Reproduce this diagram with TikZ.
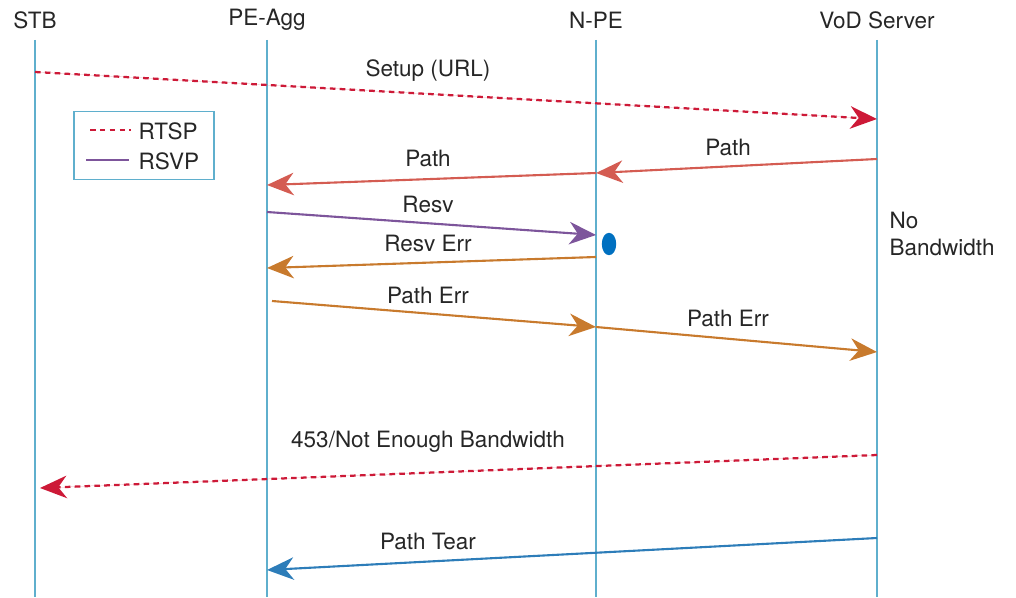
\documentclass[tikz,border=0pt]{standalone}
\usepackage{fontspec}
\setmainfont{TeX Gyre Heros}
\usetikzlibrary{arrows.meta,positioning,calc,shapes.geometric}
\definecolor{lifeblue}{RGB}{95,175,205}
\definecolor{rtspred}{RGB}{205,25,55}
\definecolor{pathred}{RGB}{212,92,82}
\definecolor{resvpurple}{RGB}{125,85,155}
\definecolor{errorange}{RGB}{200,122,45}
\definecolor{tearblue}{RGB}{45,125,185}
\definecolor{npeblue}{RGB}{0,112,192}

\begin{document}
\begin{tikzpicture}[
  x=0.025cm, y=-0.025cm,
  font=\fontsize{16}{19}\selectfont,
  every node/.style={text=black!85},
  tip/.style     = {-{Stealth[length=19pt, width=16pt, inset=6pt]}},
  life/.style    = {draw=lifeblue, line width=0.8pt},
  head/.style    = {inner sep=1pt},
  msg/.style     = {inner sep=1pt},
  rtsp/.style    = {tip, draw=rtspred, fill=rtspred, line width=1.6pt,
                    dash pattern=on 4pt off 3pt},
  rsvppath/.style= {tip, draw=pathred, fill=pathred, line width=1.5pt},
  rsvpresv/.style= {tip, draw=resvpurple, fill=resvpurple, line width=1.5pt},
  rsvperr/.style = {tip, draw=errorange, fill=errorange, line width=1.5pt},
  rsvptear/.style= {tip, draw=tearblue, fill=tearblue, line width=1.5pt},
  legbox/.style  = {draw=lifeblue, line width=0.8pt}
]
\useasboundingbox (0,0) rectangle (1016,597);

% lifelines
\node[head] (stb) at (35,20) {STB};
\node[head] (agg) at (267,20) {PE-Agg};
\node[head] (npe) at (596,20) {N-PE};
\node[head] (vod) at (877,20) {VoD Server};
\draw[life] (35,40) -- (35,597);
\draw[life] (267,40) -- (267,597);
\draw[life] (596,40) -- (596,597);
\draw[life] (877,40) -- (877,597);

% legend
\node[legbox, minimum width=3.5cm, minimum height=1.72cm] (legend) at (144,145.5) {};
\coordinate (rtspA) at (90,130);
\coordinate (rtspB) at (131,130);
\coordinate (rsvpA) at (86,160);
\coordinate (rsvpB) at (129,160);
\draw[draw=rtspred, line width=1.6pt, dash pattern=on 4pt off 3pt] (rtspA) -- (rtspB);
\draw[draw=resvpurple, line width=1.5pt] (rsvpA) -- (rsvpB);
\node[msg, anchor=west] (rtspTxt) at (137,131) {RTSP};
\node[msg, anchor=west] (rsvpTxt) at (137,161) {RSVP};

% message end points
\coordinate (setupA) at (35,72);    \coordinate (setupB) at (877,119);
\coordinate (pathA)  at (877,159);  \coordinate (pathB)  at (596,173);
\coordinate (pathC)  at (267,185);
\coordinate (resvA)  at (267,212);  \coordinate (resvB)  at (596,235);
\coordinate (rerrA)  at (596,257);  \coordinate (rerrB)  at (267,268);
\coordinate (perrA)  at (272,301);  \coordinate (perrB)  at (596,327);
\coordinate (perrC)  at (877,352);
\coordinate (noA)    at (877,455);  \coordinate (noB)    at (40,488);
\coordinate (tearA)  at (877,538);  \coordinate (tearB)  at (267,570);

\draw[rtsp] (setupA) -- (setupB);
\node[msg] (setupTxt) at (428,71) {Setup (URL)};

\draw[rsvppath] (pathA) -- (pathB);
\draw[rsvppath] (pathB) -- (pathC);
\node[msg] (pathTxt1) at (728,147) {Path};
\node[msg] (pathTxt2) at (428,158) {Path};

\draw[rsvpresv] (resvA) -- (resvB);
\node[msg] (resvTxt) at (428,204) {Resv};
\node[draw=none, fill=npeblue, ellipse, minimum width=0.36cm, minimum height=0.56cm, inner sep=0pt] (block) at (609,244) {};

\draw[rsvperr] (rerrA) -- (rerrB);
\node[msg] (rerrTxt) at (428,243) {Resv Err};

\draw[rsvperr] (perrA) -- (perrB);
\draw[rsvperr] (perrB) -- (perrC);
\node[msg] (perrTxt1) at (428,295) {Path Err};
\node[msg] (perrTxt2) at (728,318) {Path Err};

\node[msg, anchor=west, align=left] (noBw) at (888,234) {No\\Bandwidth};

\draw[rtsp] (noA) -- (noB);
\node[msg] (noTxt) at (428,442) {453/Not Enough Bandwidth};

\draw[rsvptear] (tearA) -- (tearB);
\node[msg] (tearTxt) at (428,541) {Path Tear};
\end{tikzpicture}
\end{document}
